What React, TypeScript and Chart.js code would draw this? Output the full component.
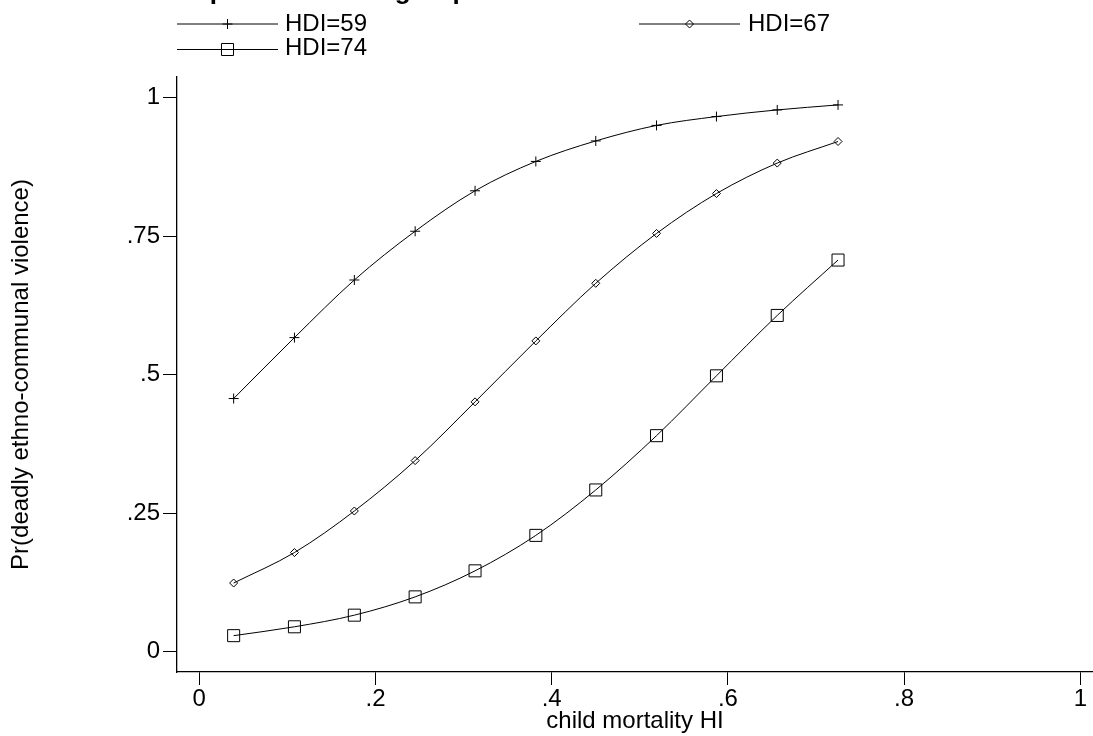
import React, { useEffect, useRef } from "react";
import { Chart, registerables } from "chart.js";
import { drawPoint } from "chart.js/helpers";

Chart.register(...registerables);

const xValues = [0.039, 0.108, 0.176, 0.245, 0.313, 0.382, 0.45, 0.519, 0.587, 0.656, 0.725];
const hdi59 = [0.457, 0.567, 0.671, 0.759, 0.832, 0.885, 0.922, 0.95, 0.966, 0.978, 0.987];
const hdi67 = [0.124, 0.179, 0.254, 0.345, 0.451, 0.561, 0.665, 0.755, 0.827, 0.882, 0.921];
const hdi74 = [0.029, 0.045, 0.066, 0.099, 0.146, 0.21, 0.292, 0.39, 0.498, 0.607, 0.707];
const seriesLabels = ["HDI=59", "HDI=67", "HDI=74"];
const xTicks = [0, 0.2, 0.4, 0.6, 0.8, 1];
const yTicks = [0, 0.25, 0.5, 0.75, 1];
const titleText = "Comparison of HDI group";
const xTitle = "child mortality HI";
const yTitle = "Pr(deadly ethno-communal violence)";

const FONT = '"Liberation Sans", Arial, Helvetica, sans-serif';
const FS = 24;

const fmt = (v: number) => {
  if (v === 0) return "0";
  if (v === 1) return "1";
  return String(v).replace(/^0/, "");
};

const legendPlugin = {
  id: "customLegend",
  afterDraw(chart: any) {
    const ctx = chart.ctx;
    const entries = [
      { ds: 0, x0: 177, x1: 278, y: 24, tx: 285, ty: 30.5 },
      { ds: 1, x0: 639, x1: 740, y: 24, tx: 748, ty: 30.5 },
      { ds: 2, x0: 177, x1: 278, y: 49.5, tx: 285, ty: 55 },
    ];
    ctx.save();
    // partially visible title (cut off at the top edge)
    ctx.fillStyle = "#000";
    ctx.font = `bold 26px ${FONT}`;
    ctx.textBaseline = "alphabetic";
    ctx.textAlign = "left";
    ctx.fillText(titleText, 152, -1.5);

    entries.forEach((e) => {
      const ds = chart.data.datasets[e.ds];
      ctx.strokeStyle = ds.borderColor;
      ctx.lineWidth = 1;
      ctx.beginPath();
      ctx.moveTo(e.x0, e.y);
      ctx.lineTo(e.x1, e.y);
      ctx.stroke();
      ctx.fillStyle = "rgba(0,0,0,0)";
      ctx.strokeStyle = "#000";
      drawPoint(
        ctx,
        { pointStyle: ds.pointStyle, radius: ds.pointRadius, rotation: 0, borderWidth: 1 } as any,
        (e.x0 + e.x1) / 2,
        e.y
      );
      ctx.fillStyle = "#000";
      ctx.font = `${FS}px ${FONT}`;
      ctx.fillText(ds.label, e.tx, e.ty);
    });
    ctx.restore();
  },
};

function mk(label: string, ys: number[], style: string, radius: number) {
  return {
    label,
    data: xValues.map((x, i) => ({ x, y: ys[i] })),
    borderColor: "#000",
    borderWidth: 1,
    pointStyle: style,
    pointRadius: radius,
    pointBorderWidth: 1,
    pointBorderColor: "#000",
    pointBackgroundColor: "rgba(0,0,0,0)",
    cubicInterpolationMode: "monotone",
    fill: false,
  };
}

export default function App() {
  const ref = useRef<HTMLCanvasElement | null>(null);
  useEffect(() => {
    if (!ref.current) return;
    const chart = new Chart(ref.current, {
      type: "line",
      data: {
        datasets: [
          mk(seriesLabels[0], hdi59, "cross", 5),
          mk(seriesLabels[1], hdi67, "rectRot", 4),
          mk(seriesLabels[2], hdi74, "rect", 8.5),
        ] as any,
      },
      options: {
        responsive: false,
        animation: false,
        devicePixelRatio: 1,
        layout: { autoPadding: false, padding: { top: 77, left: 0, right: 0, bottom: 0 } },
        plugins: { legend: { display: false }, tooltip: { enabled: false }, title: { display: false } },
        scales: {
          x: {
            type: "linear",
            min: -0.0253,
            max: 1.0144,
            afterBuildTicks: (s: any) => {
              s.ticks = xTicks.map((v) => ({ value: v }));
            },
            afterFit: (s: any) => {
              s.height = 64;
              s.paddingLeft = 0;
              s.paddingRight = 0;
            },
            grid: { display: true, drawOnChartArea: false, drawTicks: true, tickLength: 13, color: "#000", lineWidth: 1 },
            border: { display: true, color: "#000", width: 1.3 },
            ticks: {
              callback: (v: any) => fmt(Number(v)),
              font: { family: FONT, size: FS },
              color: "#000",
              padding: 0,
              maxRotation: 0,
              autoSkip: false,
            },
            title: { display: true, text: xTitle, font: { family: FONT, size: FS }, color: "#000", padding: { top: 0, bottom: 0 } },
          },
          y: {
            type: "linear",
            min: -0.0366,
            max: 1.0374,
            afterBuildTicks: (s: any) => {
              s.ticks = yTicks.map((v) => ({ value: v }));
            },
            afterFit: (s: any) => {
              s.width = 177;
              s.paddingTop = 0;
              s.paddingBottom = 0;
            },
            grid: { display: true, drawOnChartArea: false, drawTicks: true, tickLength: 14, color: "#000", lineWidth: 1 },
            border: { display: true, color: "#000", width: 1.3 },
            ticks: {
              callback: (v: any) => fmt(Number(v)),
              font: { family: FONT, size: FS },
              color: "#000",
              padding: 3,
              autoSkip: false,
            },
            title: { display: true, text: yTitle, font: { family: FONT, size: FS }, color: "#000", padding: { top: 7, bottom: 0 } },
          },
        },
      } as any,
      plugins: [legendPlugin],
    });
    return () => chart.destroy();
  }, []);
  return (
    <div style={{ position: "absolute", left: 0, top: 0, width: 1093, height: 736, background: "#fff" }}>
      <canvas ref={ref} width={1093} height={736} />
    </div>
  );
}
